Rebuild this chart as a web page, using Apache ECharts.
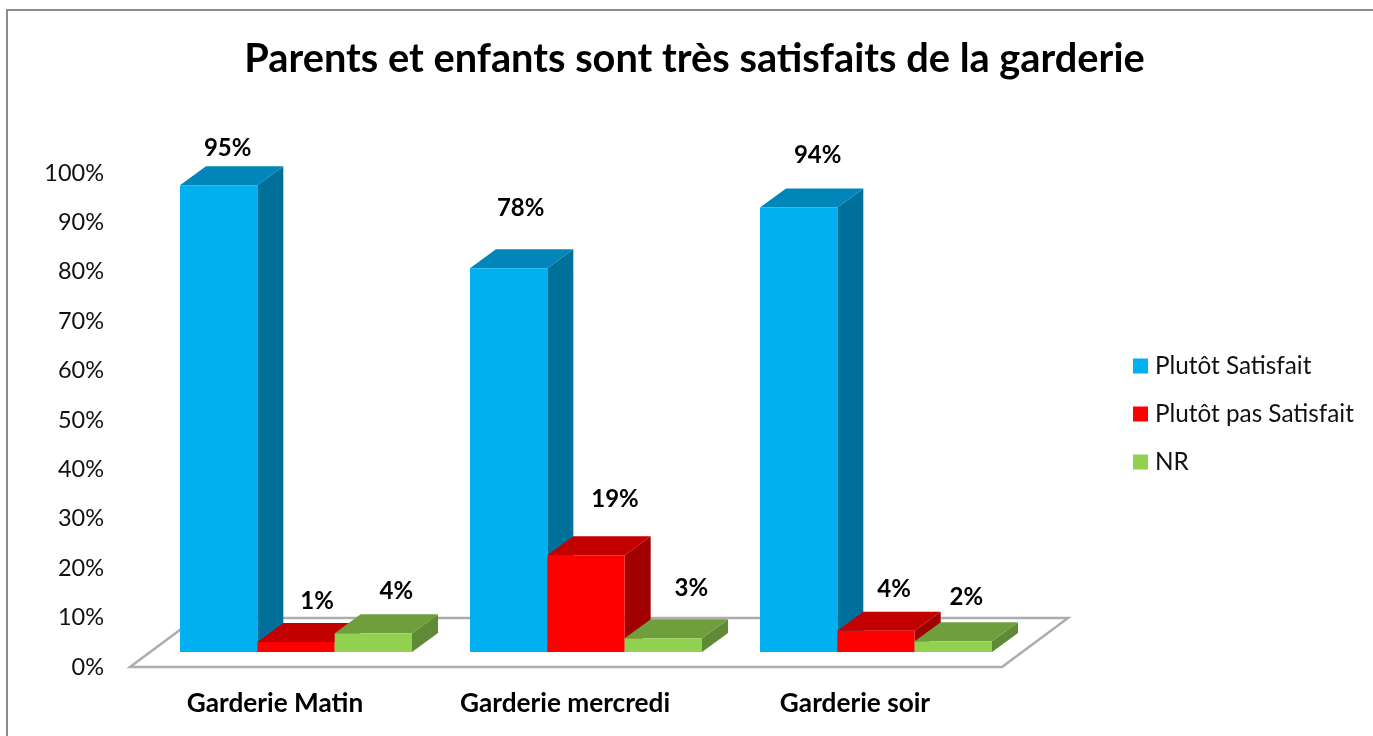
<!DOCTYPE html>
<html>
<head>
<meta charset="utf-8">
<style>html,body{margin:0;padding:0;background:#fff}#c{width:1373px;height:736px}</style>
<script src="https://cdn.jsdelivr.net/npm/echarts@6/dist/echarts.min.js"></script>
</head>
<body>
<div id="c"></div>
<script>
const titleText = "Parents et enfants sont très satisfaits de la garderie";
const categories = ["Garderie Matin", "Garderie mercredi", "Garderie soir"];
const seriesNames = ["Plutôt Satisfait", "Plutôt pas Satisfait", "NR"];

// bar heights as drawn in the picture
const satisfait = [94.5, 77.7, 90];
const pasSatisfait = [2, 19.6, 4.3];
const nr = [3.8, 2.8, 2.2];

// percentages as printed above the bars
const satisfaitLabels = ["95%", "78%", "94%"];
const pasSatisfaitLabels = ["1%", "19%", "4%"];
const nrLabels = ["4%", "3%", "2%"];

// label placement relative to the top-centre of the bar's front face
const satisfaitLabelShift = [[9, -37], [12, -60], [19, -52]];
const pasSatisfaitLabelShift = [[21, -41], [29, -56], [18, -41]];
const nrLabelShift = [[23, -42], [28, -50], [13, -44]];

const FONT = "Lato";
const DEPTH_X = 26, DEPTH_Y = -19;
const FLOOR_DX = 66, FLOOR_DY = -49, FLOOR_OVERHANG = 2;
const GROUP_SHIFT_X = 21, GROUP_SHIFT_Y = -15;
const BAR_FRACTION = 0.2667;

function barRenderer(seriesIdx, faces, labels, shifts) {
  return function (params, api) {
    const i = api.value(0);
    const band = api.size([1, 0])[0];
    const w = band * BAR_FRACTION;
    const c = api.coord([i, 0]);
    const t = api.coord([i, api.value(1)]);
    const x0 = c[0] + GROUP_SHIFT_X + (seriesIdx - 1.5) * w;
    const x1 = x0 + w;
    const yb = c[1] + GROUP_SHIFT_Y;
    const yt = t[1] + GROUP_SHIFT_Y;
    const dx = DEPTH_X, dy = DEPTH_Y;
    return {
      type: "group",
      children: [
        { type: "polygon", shape: { points: [[x1, yb], [x1 + dx, yb + dy], [x1 + dx, yt + dy], [x1, yt]] }, style: { fill: faces.side } },
        { type: "polygon", shape: { points: [[x0, yt], [x1, yt], [x1 + dx, yt + dy], [x0 + dx, yt + dy]] }, style: { fill: faces.top } },
        { type: "rect", shape: { x: x0, y: yt, width: w, height: yb - yt }, style: { fill: faces.front } },
        { type: "text", z2: 10, style: { text: labels[i], x: x0 + w / 2 + shifts[i][0], y: yt + shifts[i][1], align: "center", verticalAlign: "middle", fill: "#000", font: "bold 24px " + FONT } }
      ]
    };
  };
}

function floorRenderer(params, api) {
  const g = params.coordSys;
  const y = g.y + g.height;
  const r = g.x + g.width + FLOOR_OVERHANG;
  return {
    type: "polygon",
    shape: { points: [[g.x, y], [r, y], [r + FLOOR_DX, y + FLOOR_DY], [g.x + FLOOR_DX, y + FLOOR_DY]] },
    style: { fill: "#fff", stroke: "#adadad", lineWidth: 2.5 }
  };
}

const faceColors = [
  { front: "#00B0F0", top: "#0086B8", side: "#00709B" },
  { front: "#FF0000", top: "#C20000", side: "#A00000" },
  { front: "#92D050", top: "#6F9F3D", side: "#608A35" }
];
function rows(vals) { return vals.map((v, i) => [i, v]); }

const chart = echarts.init(document.getElementById("c"), null, { renderer: "canvas" });
chart.setOption({
  animation: false,
  backgroundColor: "#fff",
  textStyle: { fontFamily: FONT },
  title: {
    text: titleText, left: 689.5, top: 34, textAlign: "center",
    textStyle: { fontFamily: FONT, fontWeight: "bold", fontSize: 39.75, color: "#000" }
  },
  legend: {
    orient: "vertical", left: 1128, top: 349, itemWidth: 15, itemHeight: 15, itemGap: 24,
    icon: "rect", selectedMode: false,
    data: seriesNames,
    textStyle: { fontFamily: FONT, fontSize: 24.3, color: "#111", padding: [0, 0, 0, 2] }
  },
  grid: { left: 130, top: 173, width: 870, height: 494 },
  xAxis: {
    type: "category", data: categories,
    axisLine: { show: false }, axisTick: { show: false }, splitLine: { show: false },
    axisLabel: { fontFamily: FONT, fontSize: 26.2, fontWeight: "bold", color: "#000", margin: 24 }
  },
  yAxis: {
    type: "value", min: 0, max: 100, interval: 10,
    axisLine: { show: false }, axisTick: { show: false }, splitLine: { show: false },
    axisLabel: { fontFamily: FONT, fontSize: 23.5, color: "#111", margin: 26, padding: [8, 0, 0, 0], formatter: "{value}%" }
  },
  graphic: [
    { type: "polyline", silent: true, shape: { points: [[7, 736], [7, 10], [1373, 10]] }, style: { stroke: "#8c8c8c", fill: null, lineWidth: 2 } }
  ],
  series: [
    { type: "custom", name: "floor", silent: true, data: [[0, 0]], renderItem: floorRenderer, z: 1, encode: { x: 0, y: 1 } },
    { type: "custom", name: seriesNames[0], color: faceColors[0].front, data: rows(satisfait), encode: { x: 0, y: 1 }, z: 2, renderItem: barRenderer(0, faceColors[0], satisfaitLabels, satisfaitLabelShift) },
    { type: "custom", name: seriesNames[1], color: faceColors[1].front, data: rows(pasSatisfait), encode: { x: 0, y: 1 }, z: 3, renderItem: barRenderer(1, faceColors[1], pasSatisfaitLabels, pasSatisfaitLabelShift) },
    { type: "custom", name: seriesNames[2], color: faceColors[2].front, data: rows(nr), encode: { x: 0, y: 1 }, z: 4, renderItem: barRenderer(2, faceColors[2], nrLabels, nrLabelShift) }
  ]
});
</script>
</body>
</html>
